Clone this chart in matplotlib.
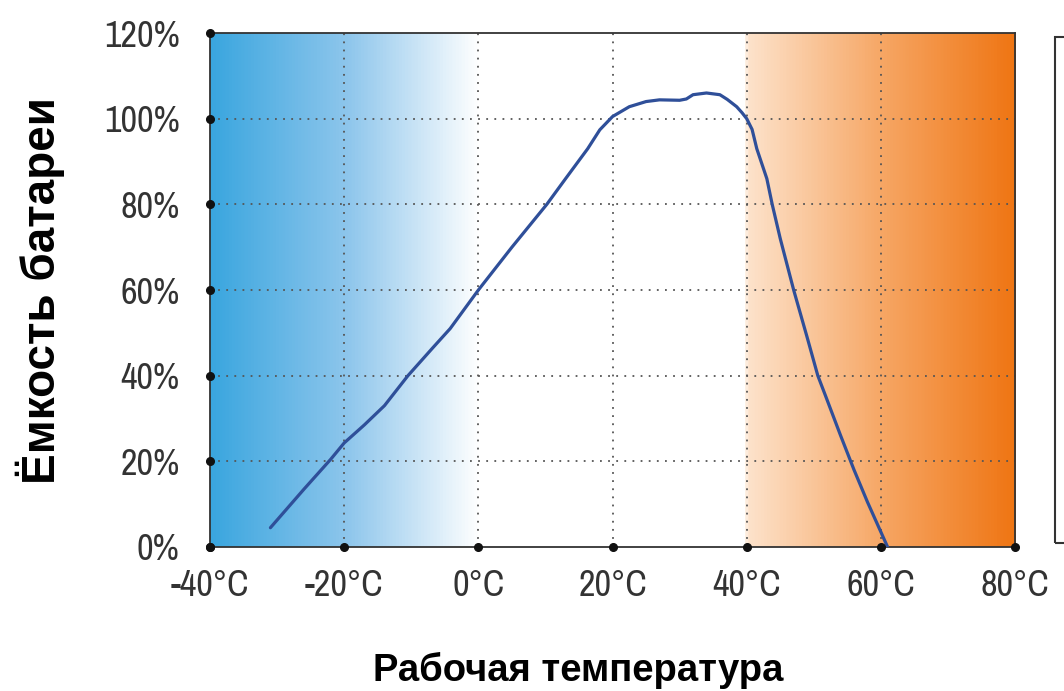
import numpy as np
import matplotlib
matplotlib.use("Agg")
import matplotlib.pyplot as plt
from matplotlib.colors import LinearSegmentedColormap
from matplotlib.patches import Rectangle

# data
temps = [-31, -26, -22, -20, -17, -14, -10.5, -6.8, -4.2, 0, 5, 10.2, 13, 16.3, 18.1,
         20, 22.5, 25, 27, 30, 31, 32, 34, 36, 37.1, 38.5, 39.3, 40, 40.8, 41.5, 43, 43.8,
         45, 47, 49, 50.6, 51.7, 54, 56, 58, 60, 61]
capacity = [4.5, 13.5, 20.5, 24.3, 28.5, 33, 40, 46.5, 51, 60, 70, 80, 86, 93, 97.4,
            100.5, 102.8, 104, 104.4, 104.3, 104.6, 105.6, 106, 105.6, 104.5, 102.8, 101.4, 100, 97.5, 93, 86, 80,
            72, 60, 49, 40, 35.5, 26, 18, 10.5, 3.5, 0]
x_ticks = [-40, -20, 0, 20, 40, 60, 80]
x_labels = ["-40°C", "-20°C", "0°C", "20°C", "40°C", "60°C", "80°C"]
y_ticks = [0, 20, 40, 60, 80, 100, 120]
y_labels = ["0%", "20%", "40%", "60%", "80%", "100%", "120%"]

tick_font = ["Archivo Narrow", "DejaVu Sans"]

fig = plt.figure(figsize=(10.64, 6.91), dpi=100)
ax = fig.add_axes([0.1974, 0.2084, 0.7566, 0.7438])

# background gradient: blue below 0°C, white 0..40°C, orange above 40°C
grad = LinearSegmentedColormap.from_list("temp", [
    (0.0, "#3aa6df"), (0.17, "#8ec6ec"), (0.333, "#ffffff"),
    (0.666, "#ffffff"), (0.667, "#fde3cc"), (0.84, "#f6a562"), (1.0, "#ef7513")])
ax.imshow(np.linspace(0, 1, 1024)[None, :], cmap=grad, aspect="auto",
          extent=[-40, 80, 0, 120], zorder=0)

for x in x_ticks[1:-1]:
    ax.axvline(x, color="#555555", lw=1.3, ls=(0, (1, 3.5)), zorder=1)
for y in y_ticks[1:-1]:
    ax.axhline(y, color="#555555", lw=1.3, ls=(0, (1, 3.5)), zorder=1)

ax.plot(temps, capacity, color="#2f4f99", lw=2.3, zorder=3,
        solid_joinstyle="round", solid_capstyle="round")

# black dots at tick positions
ax.plot(x_ticks, [0] * len(x_ticks), "o", color="#111111", ms=5.5, clip_on=False, zorder=4)
ax.plot([-40] * len(y_ticks), y_ticks, "o", color="#111111", ms=5.5, clip_on=False, zorder=4)

ax.set_xlim(-40, 80)
ax.set_ylim(0, 120)
ax.set_xticks(x_ticks)
ax.set_xticklabels(x_labels, family=tick_font, fontsize=26, color="#333333")
ax.set_yticks(y_ticks)
ax.set_yticklabels(y_labels, family=tick_font, fontsize=26, color="#333333")
ax.tick_params(length=0)
ax.tick_params(axis="x", pad=16)
ax.tick_params(axis="y", pad=22)
for s in ax.spines.values():
    s.set_color("#333333")
    s.set_linewidth(1.3)

fig.text(0.038, 0.58, "Ёмкость батареи", rotation=90, ha="center", va="center",
         fontsize=33, fontweight="bold", family="Liberation Sans")
fig.text(0.543, 0.03, "Рабочая температура", ha="center", va="center",
         fontsize=27.5, fontweight="bold", family="Liberation Sans")

# empty legend frame on the right edge
fig.patches.append(Rectangle((1055 / 1064, 1 - 543 / 691), 0.05, (543 - 37) / 691,
                             transform=fig.transFigure, fill=False,
                             edgecolor="#333333", lw=1.5))

fig.savefig("out.png", dpi=100)
